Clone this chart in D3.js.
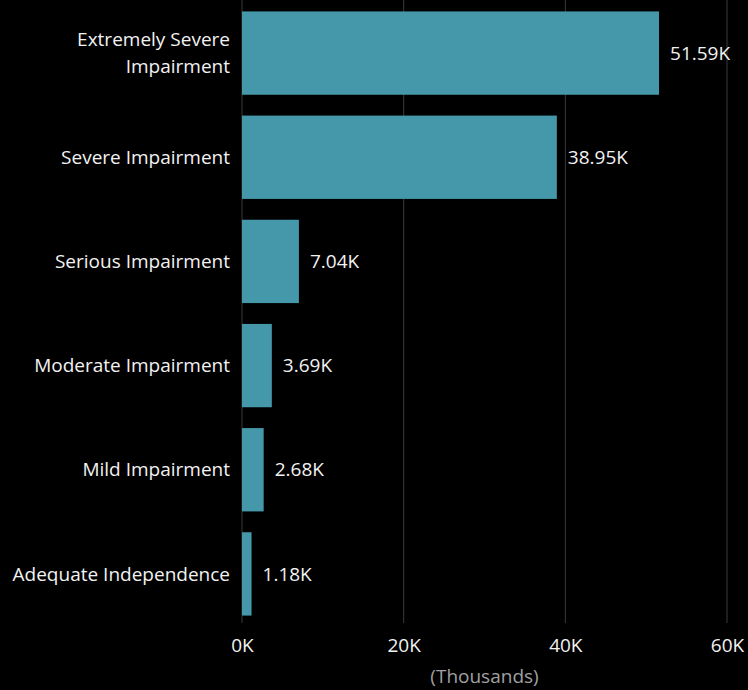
<!DOCTYPE html>
<html>
<head>
<meta charset="utf-8">
<script src="https://cdn.jsdelivr.net/npm/d3@7"></script>
<style>
  body { margin: 0; background: #000; }
  svg { display: block; }
</style>
</head>
<body>
<svg id="chart" width="748" height="690"></svg>
<script>
// categories and values (in thousands)
const categories = ["Extremely Severe Impairment", "Severe Impairment", "Serious Impairment",
  "Moderate Impairment", "Mild Impairment", "Adequate Independence"];
const values = [51.59, 38.95, 7.04, 3.69, 2.68, 1.18];
const labelLines = [["Extremely Severe", "Impairment"], ["Severe Impairment"], ["Serious Impairment"],
  ["Moderate Impairment"], ["Mild Impairment"], ["Adequate Independence"]];
const tickValues = [0, 20, 40, 60];

const svg = d3.select("#chart");
const font = "'Open Sans', 'Noto Sans', sans-serif";
const fs = "19px";

const x = d3.scaleLinear().domain([0, 60]).range([242, 727]);
const y = d3.scaleBand().domain(categories).range([1, 626]).paddingInner(0.2).paddingOuter(0.1);

// gridlines
svg.append("g")
  .selectAll("line")
  .data(tickValues)
  .join("line")
  .attr("x1", d => x(d)).attr("x2", d => x(d))
  .attr("y1", 0).attr("y2", 623)
  .attr("stroke", "#3a3a3a")
  .attr("stroke-width", 1);

// bars
svg.append("g")
  .selectAll("rect")
  .data(categories)
  .join("rect")
  .attr("x", x(0))
  .attr("y", d => y(d))
  .attr("width", (d, i) => x(values[i]) - x(0))
  .attr("height", y.bandwidth())
  .attr("fill", "#4598a9");

// value labels
svg.append("g")
  .selectAll("text")
  .data(categories)
  .join("text")
  .attr("x", (d, i) => x(values[i]) + 11)
  .attr("y", d => y(d) + y.bandwidth() / 2)
  .attr("dy", "0.35em")
  .attr("fill", "#f2f2f2")
  .style("font-family", font)
  .style("font-size", fs)
  .text((d, i) => values[i].toFixed(2) + "K");

// category labels
const catG = svg.append("g");
categories.forEach((c, i) => {
  const lines = labelLines[i];
  const cy = y(c) + y.bandwidth() / 2;
  const t = catG.append("text")
    .attr("x", 230)
    .attr("text-anchor", "end")
    .attr("fill", "#f2f2f2")
    .style("font-family", font)
    .style("font-size", fs);
  lines.forEach((l, j) => {
    t.append("tspan")
      .attr("x", 230)
      .attr("y", cy + (j - (lines.length - 1) / 2) * 27)
      .attr("dy", "0.35em")
      .text(l);
  });
});

// x axis
const xAxis = d3.axisBottom(x)
  .tickValues(tickValues)
  .tickFormat(d => d + "K")
  .tickSize(0)
  .tickPadding(0);
const ax = svg.append("g").attr("transform", "translate(0,638)").call(xAxis);
ax.select(".domain").remove();
ax.selectAll("text")
  .attr("fill", "#f2f2f2")
  .style("font-family", font)
  .style("font-size", fs);

svg.append("text")
  .attr("x", x(30))
  .attr("y", 676)
  .attr("dy", "0.35em")
  .attr("text-anchor", "middle")
  .attr("fill", "#a0a0a0")
  .style("font-family", font)
  .style("font-size", fs)
  .text("(Thousands)");
</script>
</body>
</html>
